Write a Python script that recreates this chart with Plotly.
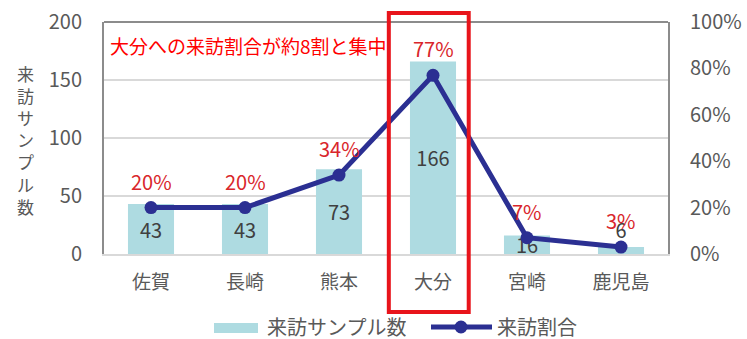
import plotly.graph_objects as go

# Prefectures and survey values
prefectures = ["佐賀", "長崎", "熊本", "大分", "宮崎", "鹿児島"]
sample_counts = [43, 43, 73, 166, 16, 6]
visit_ratio_pct = [20, 20, 34, 77, 7, 3]

bar_name = "来訪サンプル数"
line_name = "来訪割合"
headline = "大分への来訪割合が約8割と集中"
highlight = "大分"

FONT = "Noto Sans CJK JP, Liberation Sans, sans-serif"
BAR_COLOR = "#aedbe1"
LINE_COLOR = "#2b2f92"
PCT_COLOR = "#d9262b"
TICK_COLOR = "#595959"
FRAME_COLOR = "#8c8c8c"
GRID_COLOR = "#d9d9d9"

# plot area geometry (pixels) used to place paper-referenced extras
PLOT_TOP, PLOT_BOTTOM, PLOT_LEFT, PLOT_RIGHT = 22, 254, 104, 668
PLOT_H = PLOT_BOTTOM - PLOT_TOP
PLOT_W = PLOT_RIGHT - PLOT_LEFT


def py(y_px):
    return (PLOT_BOTTOM - y_px) / PLOT_H


def px(x_px):
    return (x_px - PLOT_LEFT) / PLOT_W


fig = go.Figure()

# value labels sit centred in each bar; the tiniest bar gets its label above
label_pos = ["inside" if v >= 10 else "outside" for v in sample_counts]

fig.add_trace(go.Bar(
    x=prefectures, y=sample_counts, name=bar_name,
    marker=dict(color=BAR_COLOR, line=dict(width=0)),
    text=[str(v) for v in sample_counts],
    textposition=label_pos, insidetextanchor="middle",
    textangle=0, constraintext="none",
    textfont=dict(family=FONT, size=20, color="#404040"),
    outsidetextfont=dict(family=FONT, size=20, color="#404040"),
    cliponaxis=False,
    showlegend=False,
))

fig.add_trace(go.Scatter(
    x=prefectures, y=visit_ratio_pct, name=line_name, yaxis="y2",
    mode="lines+markers",
    line=dict(color=LINE_COLOR, width=5),
    marker=dict(color=LINE_COLOR, size=13),
    showlegend=False,
))

annotations = []
# Percentage labels above each point of the ratio line
for p, r in zip(prefectures, visit_ratio_pct):
    annotations.append(dict(
        x=p, y=r, xref="x", yref="y2", text=f"{r}%", showarrow=False,
        yanchor="middle", yshift=27, height=20,
        font=dict(family=FONT, size=20, color=PCT_COLOR),
    ))

# Headline inside the plot area
annotations.append(dict(
    x=px(108), y=py(45), xref="paper", yref="paper",
    xanchor="left", yanchor="middle",
    text=headline, showarrow=False,
    font=dict(family=FONT, size=19, color="#ff0000"),
))

# Vertical (upright) y-axis title, one character per line
annotations.append(dict(
    x=px(25), y=py(140), xref="paper", yref="paper",
    xanchor="center", yanchor="middle",
    text="<br>".join(bar_name), showarrow=False,
    font=dict(family=FONT, size=17, color=TICK_COLOR),
))

# Custom legend texts
annotations.append(dict(
    x=px(265), y=py(326), xref="paper", yref="paper",
    xanchor="left", yanchor="middle", height=22,
    text=bar_name, showarrow=False,
    font=dict(family=FONT, size=20, color=TICK_COLOR),
))
annotations.append(dict(
    x=px(495), y=py(326), xref="paper", yref="paper",
    xanchor="left", yanchor="middle", height=22,
    text=line_name, showarrow=False,
    font=dict(family=FONT, size=20, color=TICK_COLOR),
))

hi = prefectures.index(highlight)
shapes = [
    # top border of the plot frame
    dict(type="line", xref="paper", yref="paper", x0=0, x1=1, y0=1, y1=1,
         line=dict(color=FRAME_COLOR, width=2)),
    # highlight box around the focus prefecture
    dict(type="rect", xref="x", yref="paper", x0=hi - 0.47, x1=hi + 0.38,
         y0=py(312), y1=py(13), line=dict(color="#e8141b", width=4),
         fillcolor="rgba(0,0,0,0)", layer="above"),
    # legend swatch for bars
    dict(type="rect", xref="paper", yref="paper", x0=px(214), x1=px(258),
         y0=py(333), y1=py(323), fillcolor=BAR_COLOR, line=dict(width=0)),
    # legend symbol for the line
    dict(type="line", xref="paper", yref="paper", x0=px(431), x1=px(492),
         y0=py(327), y1=py(327), line=dict(color=LINE_COLOR, width=5)),
    dict(type="circle", xref="paper", yref="paper", xsizemode="pixel",
         ysizemode="pixel", xanchor=px(461), yanchor=py(327),
         x0=-6.5, x1=6.5, y0=-6.5, y1=6.5,
         fillcolor=LINE_COLOR, line=dict(width=0)),
]

fig.update_layout(
    width=747, height=339,
    margin=dict(l=PLOT_LEFT, r=747 - PLOT_RIGHT, t=PLOT_TOP,
                b=339 - PLOT_BOTTOM),
    paper_bgcolor="white", plot_bgcolor="white",
    font=dict(family=FONT, color=TICK_COLOR),
    bargap=0.51,
    showlegend=False,
    uniformtext=dict(mode=False),
    xaxis=dict(
        showline=True, linecolor=GRID_COLOR, linewidth=1.5,
        tickfont=dict(family=FONT, size=19, color=TICK_COLOR),
        ticks="", ticklabelstandoff=10, automargin=False,
    ),
    yaxis=dict(
        range=[0, 200], dtick=50, showgrid=True, gridcolor=GRID_COLOR,
        gridwidth=1.5, zeroline=False,
        showline=True, linecolor=FRAME_COLOR, linewidth=2,
        tickfont=dict(family=FONT, size=20, color=TICK_COLOR),
        ticks="", ticklabelstandoff=16, automargin=False,
    ),
    yaxis2=dict(
        range=[0, 100], dtick=20, ticksuffix="%", overlaying="y",
        side="right", showgrid=False, zeroline=False,
        showline=True, linecolor=FRAME_COLOR, linewidth=2,
        tickfont=dict(family=FONT, size=20, color=TICK_COLOR),
        ticks="", ticklabelstandoff=16, automargin=False,
    ),
    annotations=annotations,
    shapes=shapes,
)

fig.write_html("out.html")
